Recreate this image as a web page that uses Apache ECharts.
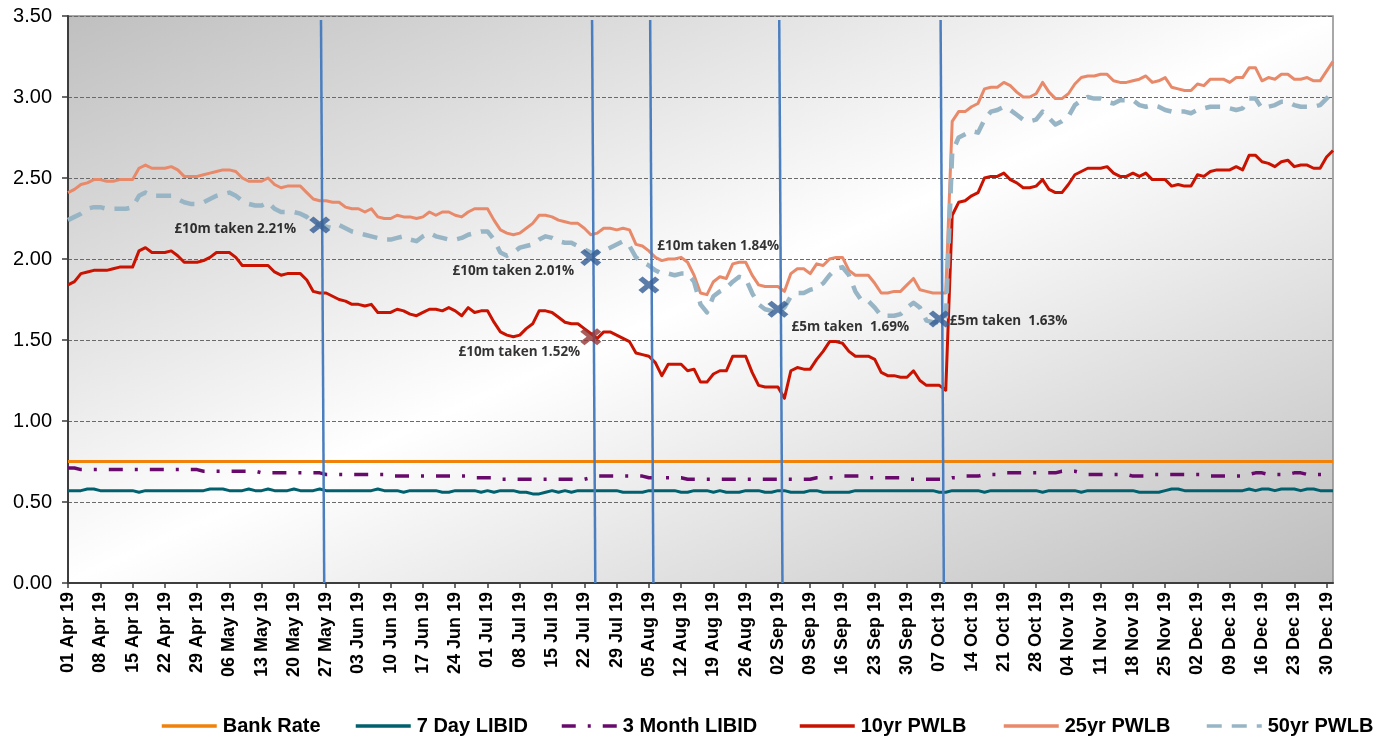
<!DOCTYPE html>
<html>
<head>
<meta charset="utf-8">
<script src="https://cdn.jsdelivr.net/npm/echarts@6/dist/echarts.min.js"></script>
<style>
  html, body { margin: 0; padding: 0; background: #ffffff; }
  #chart { width: 1387px; height: 738px; }
</style>
</head>
<body>
<div id="chart"></div>
<script>
// Weekly tick labels (every fifth business day, starting Monday 01 Apr 2019)
const tickLabels = ['01 Apr 19','08 Apr 19','15 Apr 19','22 Apr 19','29 Apr 19','06 May 19','13 May 19',
  '20 May 19','27 May 19','03 Jun 19','10 Jun 19','17 Jun 19','24 Jun 19','01 Jul 19','08 Jul 19',
  '15 Jul 19','22 Jul 19','29 Jul 19','05 Aug 19','12 Aug 19','19 Aug 19','26 Aug 19','02 Sep 19',
  '09 Sep 19','16 Sep 19','23 Sep 19','30 Sep 19','07 Oct 19','14 Oct 19','21 Oct 19','28 Oct 19',
  '04 Nov 19','11 Nov 19','18 Nov 19','25 Nov 19','02 Dec 19','09 Dec 19','16 Dec 19','23 Dec 19','30 Dec 19'];

// Business days 01 Apr 2019 - 31 Dec 2019
const MONTHS = ['Jan','Feb','Mar','Apr','May','Jun','Jul','Aug','Sep','Oct','Nov','Dec'];
const days = [];
for (let d = new Date(Date.UTC(2019, 3, 1)); d <= new Date(Date.UTC(2019, 11, 31)); d.setUTCDate(d.getUTCDate() + 1)) {
  const wd = d.getUTCDay();
  if (wd === 0 || wd === 6) continue;
  days.push(String(d.getUTCDate()).padStart(2, '0') + ' ' + MONTHS[d.getUTCMonth()] + ' ' + String(d.getUTCFullYear()).slice(2));
}

// Rates (%), one value per business day
const bankRate = 0.75;

const libid7Day = [
  0.57,0.57,0.57,0.58,0.58, 0.57,0.57,0.57,0.57,0.57, 0.57,0.56,0.57,0.57,0.57, 0.57,0.57,0.57,0.57,0.57,
  0.57,0.57,0.58,0.58,0.58, 0.57,0.57,0.57,0.58,0.57, 0.57,0.58,0.57,0.57,0.57, 0.58,0.57,0.57,0.57,0.58,
  0.57,0.57,0.57,0.57,0.57, 0.57,0.57,0.57,0.58,0.57, 0.57,0.57,0.56,0.57,0.57, 0.57,0.57,0.57,0.56,0.56,
  0.57,0.57,0.57,0.57,0.56, 0.57,0.56,0.57,0.57,0.57, 0.56,0.56,0.55,0.55,0.56, 0.57,0.56,0.57,0.56,0.57,
  0.57,0.57,0.57,0.57,0.57, 0.57,0.56,0.56,0.56,0.56, 0.57,0.57,0.57,0.57,0.57, 0.56,0.56,0.57,0.57,0.57,
  0.56,0.57,0.56,0.56,0.56, 0.57,0.57,0.57,0.56,0.56, 0.57,0.57,0.56,0.56,0.56, 0.57,0.57,0.56,0.56,0.56,
  0.56,0.56,0.57,0.57,0.57, 0.57,0.57,0.57,0.57,0.57, 0.57,0.57,0.57,0.57,0.57, 0.56,0.56,0.57,0.57,0.57,
  0.57,0.57,0.56,0.57,0.57, 0.57,0.57,0.57,0.57,0.57, 0.57,0.56,0.57,0.57,0.57, 0.57,0.57,0.56,0.57,0.57,
  0.57,0.57,0.57,0.57,0.57, 0.57,0.56,0.56,0.56,0.56, 0.57,0.58,0.58,0.57,0.57, 0.57,0.57,0.57,0.57,0.57,
  0.57,0.57,0.57,0.58,0.57, 0.58,0.58,0.57,0.58,0.58, 0.58,0.57,0.58,0.58,0.57, 0.57,0.57
];

const libid3Month = [
  0.71,0.71,0.70,0.70,0.70, 0.70,0.70,0.70,0.70,0.70, 0.70,0.70,0.70,0.70,0.70, 0.70,0.70,0.70,0.70,0.70,
  0.70,0.69,0.69,0.69,0.69, 0.69,0.69,0.69,0.69,0.69, 0.68,0.68,0.68,0.68,0.68, 0.68,0.68,0.68,0.68,0.68,
  0.67,0.67,0.67,0.67,0.67, 0.67,0.67,0.67,0.67,0.67, 0.66,0.66,0.66,0.66,0.66, 0.66,0.66,0.66,0.66,0.66,
  0.66,0.66,0.66,0.65,0.65, 0.65,0.65,0.64,0.64,0.64, 0.64,0.64,0.64,0.64,0.64, 0.64,0.64,0.64,0.64,0.64,
  0.64,0.65,0.66,0.66,0.66, 0.66,0.66,0.66,0.66,0.66, 0.65,0.65,0.65,0.65,0.65, 0.65,0.64,0.64,0.64,0.64,
  0.64,0.64,0.64,0.64,0.64, 0.64,0.64,0.64,0.64,0.64, 0.64,0.64,0.64,0.64,0.64, 0.64,0.65,0.65,0.65,0.65,
  0.66,0.66,0.66,0.66,0.65, 0.65,0.65,0.65,0.65,0.65, 0.64,0.64,0.64,0.64,0.64, 0.64,0.64,0.65,0.65,0.66,
  0.66,0.66,0.67,0.67,0.67, 0.68,0.68,0.68,0.68,0.68, 0.68,0.68,0.68,0.68,0.69, 0.69,0.69,0.68,0.67,0.67,
  0.67,0.67,0.67,0.67,0.67, 0.66,0.66,0.66,0.67,0.67, 0.67,0.67,0.67,0.67,0.67, 0.67,0.67,0.66,0.66,0.66,
  0.66,0.66,0.66,0.67,0.68, 0.68,0.67,0.67,0.67,0.67, 0.68,0.68,0.67,0.67,0.67, 0.67,0.67
];

const pwlb10yr = [
  1.84,1.86,1.91,1.92,1.93, 1.93,1.93,1.94,1.95,1.95, 1.95,2.05,2.07,2.04,2.04, 2.04,2.05,2.02,1.98,1.98,
  1.98,1.99,2.01,2.04,2.04, 2.04,2.01,1.96,1.96,1.96, 1.96,1.96,1.92,1.90,1.91, 1.91,1.91,1.87,1.80,1.79,
  1.79,1.77,1.75,1.74,1.72, 1.72,1.71,1.72,1.67,1.67, 1.67,1.69,1.68,1.66,1.65, 1.67,1.69,1.69,1.68,1.70,
  1.68,1.65,1.70,1.67,1.68, 1.68,1.61,1.55,1.53,1.52, 1.53,1.57,1.60,1.68,1.68, 1.67,1.64,1.61,1.60,1.60,
  1.57,1.54,1.51,1.55,1.55, 1.53,1.51,1.49,1.42,1.41, 1.40,1.36,1.28,1.35,1.35, 1.35,1.31,1.32,1.24,1.24,
  1.29,1.31,1.31,1.40,1.40, 1.40,1.30,1.22,1.21,1.21, 1.21,1.14,1.31,1.33,1.32, 1.32,1.38,1.43,1.49,1.49,
  1.48,1.43,1.40,1.40,1.40, 1.38,1.30,1.28,1.28,1.27, 1.27,1.31,1.25,1.22,1.22, 1.22,1.19,2.27,2.35,2.36,
  2.39,2.41,2.50,2.51,2.51, 2.53,2.49,2.47,2.44,2.44, 2.45,2.49,2.43,2.41,2.41, 2.46,2.52,2.54,2.56,2.56,
  2.56,2.57,2.53,2.51,2.51, 2.53,2.51,2.53,2.49,2.49, 2.49,2.45,2.46,2.45,2.45, 2.52,2.51,2.54,2.55,2.55,
  2.55,2.57,2.55,2.64,2.64, 2.60,2.59,2.57,2.60,2.61, 2.57,2.58,2.58,2.56,2.56, 2.63,2.67
];

const pwlb25yr = [
  2.41,2.43,2.46,2.47,2.49, 2.49,2.48,2.48,2.49,2.49, 2.49,2.56,2.58,2.56,2.56, 2.56,2.57,2.55,2.51,2.51,
  2.51,2.52,2.53,2.54,2.55, 2.55,2.54,2.50,2.48,2.48, 2.48,2.50,2.46,2.44,2.45, 2.45,2.45,2.41,2.37,2.36,
  2.36,2.35,2.35,2.32,2.31, 2.31,2.29,2.31,2.26,2.25, 2.25,2.27,2.26,2.26,2.25, 2.26,2.29,2.27,2.29,2.29,
  2.27,2.26,2.29,2.31,2.31, 2.31,2.24,2.18,2.16,2.15, 2.16,2.19,2.22,2.27,2.27, 2.26,2.24,2.23,2.22,2.22,
  2.19,2.15,2.16,2.19,2.19, 2.18,2.19,2.18,2.09,2.08, 2.05,2.01,1.99,2.00,2.00, 2.01,1.98,1.90,1.79,1.78,
  1.86,1.89,1.88,1.97,1.98, 1.98,1.90,1.84,1.83,1.83, 1.83,1.80,1.91,1.94,1.94, 1.91,1.97,1.96,2.00,2.01,
  2.01,1.93,1.90,1.90,1.90, 1.85,1.79,1.79,1.80,1.80, 1.84,1.88,1.81,1.80,1.79, 1.79,1.79,2.85,2.91,2.91,
  2.94,2.96,3.05,3.06,3.06, 3.09,3.07,3.03,3.00,3.00, 3.02,3.09,3.03,2.99,2.99, 3.02,3.08,3.12,3.13,3.13,
  3.14,3.14,3.10,3.09,3.09, 3.10,3.11,3.13,3.09,3.10, 3.12,3.06,3.05,3.04,3.04, 3.08,3.07,3.11,3.11,3.11,
  3.09,3.12,3.12,3.18,3.18, 3.10,3.12,3.11,3.14,3.14, 3.11,3.11,3.12,3.10,3.10, 3.16,3.22
];

const pwlb50yr = [
  2.24,2.26,2.28,2.31,2.32, 2.32,2.31,2.31,2.31,2.31, 2.32,2.39,2.41,2.39,2.39, 2.39,2.39,2.37,2.35,2.34,
  2.34,2.35,2.37,2.39,2.40, 2.41,2.39,2.36,2.34,2.33, 2.33,2.35,2.31,2.29,2.29, 2.29,2.28,2.26,2.22,2.21,
  2.20,2.19,2.21,2.19,2.17, 2.16,2.15,2.14,2.13,2.12, 2.12,2.13,2.14,2.12,2.11, 2.14,2.16,2.14,2.13,2.12,
  2.12,2.13,2.15,2.16,2.17, 2.17,2.12,2.04,2.02,2.04, 2.07,2.08,2.09,2.12,2.14, 2.13,2.11,2.10,2.10,2.08,
  2.06,2.04,2.04,2.05,2.07, 2.09,2.11,2.08,2.01,1.98, 1.96,1.93,1.91,1.91,1.90, 1.91,1.91,1.86,1.72,1.67,
  1.77,1.80,1.82,1.86,1.89, 1.88,1.79,1.72,1.69,1.68, 1.67,1.70,1.77,1.79,1.79, 1.81,1.82,1.85,1.90,1.94,
  1.95,1.90,1.80,1.74,1.74, 1.70,1.65,1.65,1.65,1.66, 1.70,1.73,1.70,1.62,1.61, 1.61,1.62,2.66,2.75,2.77,
  2.79,2.78,2.86,2.91,2.92, 2.94,2.92,2.89,2.86,2.85, 2.86,2.91,2.87,2.83,2.85, 2.88,2.95,2.98,3.00,2.99,
  2.99,2.97,2.96,2.98,2.98, 2.98,2.95,2.94,2.95,2.94, 2.92,2.91,2.91,2.91,2.90, 2.92,2.93,2.94,2.94,2.94,
  2.93,2.92,2.93,2.99,2.99, 2.93,2.94,2.95,2.97,2.97, 2.95,2.94,2.94,2.94,2.95, 2.99,3.03
];

// PWLB borrowing taken during the year
const loanDates   = ['24 May 19', '23 Jul 19', '23 Jul 19', '05 Aug 19', '02 Sep 19', '07 Oct 19'];
const loanAmounts = ['£10m', '£10m', '£10m', '£10m', '£5m', '£5m'];
const loanRates   = [2.21, 2.01, 1.52, 1.84, 1.69, 1.63];

// ---- presentation ----
const FONT = 'Arial, "Liberation Sans", Helvetica, sans-serif';
const lastDay = days.length - 1;
const toPairs = arr => arr.map((v, i) => [i, v]);
const dayIndex = label => days.indexOf(label);

// label placement around each loan marker
const loanLabelLayout = [
  { position: 'left',  distance: 13, offset: [0, 4] },
  { position: 'left',  distance: 6,  offset: [0, 14] },
  { position: 'left',  distance: 0,  offset: [0, 15] },
  { position: 'right', distance: -2, offset: [0, -39] },
  { position: 'right', distance: 3,  offset: [0, 18] },
  { position: 'right', distance: 0,  offset: [0, 2] }
];
const loanColours = ['#335c94', '#335c94', '#943634', '#335c94', '#335c94', '#335c94'];

const loanPoints = loanDates.map((d, k) => ({
  value: [dayIndex(d), loanRates[k]],
  itemStyle: { color: loanColours[k] },
  label: Object.assign({
    show: true,
    formatter: loanAmounts[k] + ' taken ' + (loanAmounts[k] === '£5m' ? ' ' : '') + loanRates[k].toFixed(2) + '%',
    fontFamily: '"Open Sans", "DejaVu Sans", sans-serif',
    fontWeight: 'bold',
    fontSize: 13.5,
    color: '#000000'
  }, loanLabelLayout[k])
}));

// one vertical marker line per borrowing date, running the full height of the plot
const lineDates = loanDates.filter((d, k) => loanDates.indexOf(d) === k);
const loanLines = lineDates.map(d => {
  const i = dayIndex(d);
  return [{ coord: [i + 0.2, 3.475] }, { coord: [i + 0.7, 0] }];
});

// bold cross used for each borrowing point
const X_SHAPE = 'path://M0,4 L4,0 L10,6 L16,0 L20,4 L14,10 L20,16 L16,20 L10,14 L4,20 L0,16 L6,10 Z';

const seriesStyles = [
  { name: 'Bank Rate',     color: '#f08209', width: 3,   type: 'solid' },
  { name: '7 Day LIBID',   color: '#00606d', width: 3,   type: 'solid' },
  { name: '3 Month LIBID', color: '#680a6c', width: 3.5, type: [14, 12, 3, 12] },
  { name: '10yr PWLB',     color: '#c91300', width: 3,   type: 'solid' },
  { name: '25yr PWLB',     color: '#e8896a', width: 3,   type: 'solid' },
  { name: '50yr PWLB',     color: '#98b5c5', width: 4.5, type: [15, 10] }
];
const seriesData = [
  [[0, bankRate], [lastDay, bankRate]],
  toPairs(libid7Day),
  toPairs(libid3Month),
  toPairs(pwlb10yr),
  toPairs(pwlb25yr),
  toPairs(pwlb50yr)
];

const lineSeries = seriesStyles.map((s, k) => ({
  name: s.name,
  type: 'line',
  data: seriesData[k],
  symbol: 'none',
  showSymbol: false,
  animation: false,
  z: 3,
  color: s.color,
  lineStyle: { color: s.color, width: s.width, type: s.type, cap: 'butt', join: 'round' }
}));

const legendLeft = [155, 349, 555, 793, 997, 1200];
const legends = seriesStyles.map((s, k) => ({
  data: [s.name],
  left: legendLeft[k],
  top: 711,
  itemWidth: 55,
  itemHeight: 14,
  itemGap: 0,
  selectedMode: false,
  itemStyle: { opacity: 0, borderWidth: 0 },
  lineStyle: { width: 3.5 },
  textStyle: { fontFamily: FONT, fontWeight: 'bold', fontSize: 20, color: '#000000', padding: [0, 0, 0, 1] }
}));

const chart = echarts.init(document.getElementById('chart'));
chart.setOption({
  animation: false,
  backgroundColor: '#ffffff',
  legend: legends,
  grid: {
    left: 68, right: 54, top: 16, bottom: 155,
    outerBoundsMode: 'none',
    containLabel: false,
    show: true,
    borderColor: '#8c8c8c',
    borderWidth: 1.5,
    backgroundColor: new echarts.graphic.LinearGradient(0.333, -0.333, 0.667, 1.333, [
      { offset: 0, color: '#bfbfbf' },
      { offset: 0.5, color: '#ffffff' },
      { offset: 1, color: '#bdbdbd' }
    ])
  },
  xAxis: {
    type: 'value',
    min: 0,
    max: lastDay,
    interval: 5,
    splitLine: { show: false },
    axisLine: { show: true, onZero: false, lineStyle: { color: '#3d3d3d', width: 2 } },
    axisTick: { show: true, length: 5, lineStyle: { color: '#3d3d3d', width: 1.5 } },
    axisLabel: {
      rotate: 90,
      margin: 9,
      fontFamily: FONT,
      fontWeight: 'bold',
      fontSize: 18,
      color: '#000000',
      showMaxLabel: false,
      formatter: v => (v % 5 === 0 ? (tickLabels[v / 5] || '') : '')
    }
  },
  yAxis: {
    type: 'value',
    min: 0,
    max: 3.5,
    interval: 0.5,
    name: '%',
    nameLocation: 'middle',
    nameGap: 29,
    nameTextStyle: { fontFamily: FONT, fontSize: 17, color: '#000000' },
    axisLine: { show: true, lineStyle: { color: '#3d3d3d', width: 2 } },
    axisTick: { show: true, length: 6, lineStyle: { color: '#3d3d3d', width: 1.5 } },
    axisLabel: {
      margin: 16,
      fontFamily: FONT,
      fontSize: 20,
      color: '#000000',
      formatter: v => v.toFixed(2)
    },
    splitLine: { show: true, lineStyle: { color: '#6a6a6a', width: 1, type: [4, 2] } }
  },
  series: lineSeries.concat([{
    name: 'Borrowing',
    type: 'scatter',
    data: loanPoints,
    symbol: X_SHAPE,
    symbolSize: [21, 17],
    z: 5,
    animation: false,
    markLine: {
      silent: true,
      symbol: ['none', 'none'],
      label: { show: false },
      lineStyle: { color: '#4a7ebf', width: 2.5, type: 'solid' },
      data: loanLines,
      animation: false
    }
  }])
});
</script>
</body>
</html>
